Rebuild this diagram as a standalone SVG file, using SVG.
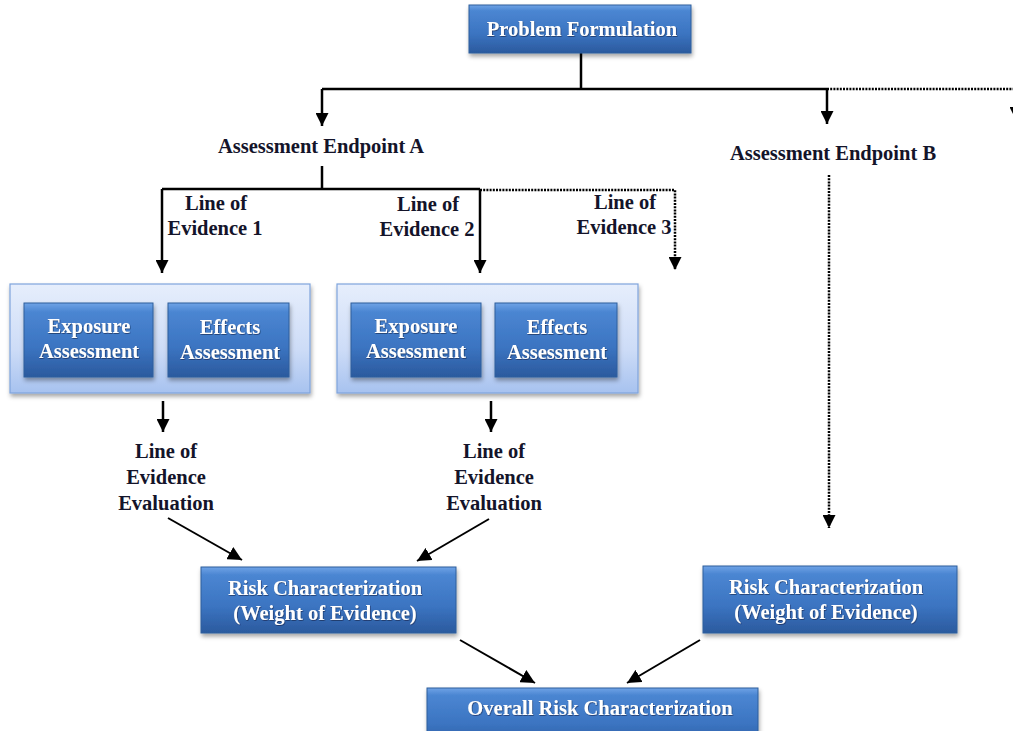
<svg xmlns="http://www.w3.org/2000/svg" width="1013" height="731" viewBox="0 0 1013 731">
<style>
.lbl{font-family:"Liberation Serif","Times New Roman",serif;font-weight:bold;font-size:20.5px;fill:#14142a;text-anchor:middle}
.btxt{font-family:"Liberation Serif","Times New Roman",serif;font-weight:bold;font-size:20.5px;fill:#ffffff;text-anchor:middle}
.box{fill:url(#blue);stroke:#2f5e9c;stroke-width:1}
.panel{fill:url(#pale);stroke:#7fa4dc;stroke-width:1.2}
.solid{fill:none;stroke:#000;stroke-width:2.5}
.dot{fill:none;stroke:#000;stroke-width:2.5;stroke-dasharray:2 1.2}
.diag{fill:none;stroke:#000;stroke-width:2}
</style>
<defs>
<linearGradient id="blue" x1="0" y1="0" x2="0" y2="1">
<stop offset="0" stop-color="#6fa3e6"/>
<stop offset="0.12" stop-color="#4b86d2"/>
<stop offset="0.6" stop-color="#3b74c1"/>
<stop offset="1" stop-color="#2b5a9e"/>
</linearGradient>
<linearGradient id="pale" x1="0" y1="0" x2="0" y2="1">
<stop offset="0" stop-color="#e6eefc"/>
<stop offset="0.6" stop-color="#cddcf7"/>
<stop offset="1" stop-color="#a7c2ef"/>
</linearGradient>
<filter id="sh" x="-10%" y="-10%" width="125%" height="140%">
<feDropShadow dx="1" dy="3" stdDeviation="2" flood-color="#000" flood-opacity="0.35"/>
</filter>
<filter id="tsh" x="-5%" y="-20%" width="110%" height="150%">
<feDropShadow dx="0.6" dy="0.8" stdDeviation="0.6" flood-color="#0a1e40" flood-opacity="0.7"/>
</filter>
<marker id="ah" viewBox="0 0 12 12" refX="12" refY="6" markerWidth="13" markerHeight="13" markerUnits="userSpaceOnUse" orient="auto">
<path d="M0,0 L12,6 L0,12 z" fill="#000"/>
</marker>
<marker id="ahs" viewBox="0 0 12 12" refX="12" refY="6" markerWidth="14" markerHeight="14" markerUnits="userSpaceOnUse" orient="auto">
<path d="M0,0 L12,6 L0,12 z" fill="#000"/>
</marker>
</defs>

<g id="connectors">
<path class="solid" d="M581,53 V89"/>
<path class="solid" d="M322,89 H827" />
<path class="solid" d="M322,89 V126" marker-end="url(#ah)"/>
<path class="solid" d="M827,89 V124" marker-end="url(#ah)"/>
<path class="dot" d="M827,89 H1016 V120" marker-end="url(#ah)"/>
<path class="solid" d="M322,166 V189"/>
<path class="solid" d="M162,189 H480"/>
<path class="solid" d="M162,189 V273" marker-end="url(#ah)"/>
<path class="solid" d="M480,189 V273" marker-end="url(#ah)"/>
<path class="dot" d="M480,190 H675 V270" marker-end="url(#ah)"/>
<path class="dot" d="M829,175 V528" marker-end="url(#ah)"/>
<path class="solid" d="M163,401 V432" marker-end="url(#ah)"/>
<path class="solid" d="M491,401 V432" marker-end="url(#ah)"/>
<path class="diag" d="M168,518 L242,560" marker-end="url(#ahs)"/>
<path class="diag" d="M489,519 L417,561" marker-end="url(#ahs)"/>
<path class="diag" d="M460,640 L535,683" marker-end="url(#ahs)"/>
<path class="diag" d="M700,640 L627,683" marker-end="url(#ahs)"/>
</g>

<g id="problem-formulation">
<rect class="box" x="469" y="5" width="222" height="48" filter="url(#sh)"/>
<text class="btxt" x="582" y="36" filter="url(#tsh)">Problem Formulation</text>
</g>

<g id="endpoint-a">
<text class="lbl" x="321" y="153">Assessment Endpoint A</text>
</g>

<g id="endpoint-b">
<text class="lbl" x="833" y="160">Assessment Endpoint B</text>
</g>

<g id="loe-1">
<text class="lbl" x="216" y="210">Line of</text>
<text class="lbl" x="215" y="235">Evidence 1</text>
</g>
<g id="loe-2">
<text class="lbl" x="428" y="211">Line of</text>
<text class="lbl" x="427" y="236">Evidence 2</text>
</g>
<g id="loe-3">
<text class="lbl" x="625" y="209">Line of</text>
<text class="lbl" x="624" y="234">Evidence 3</text>
</g>

<g id="panel-1">
<rect class="panel" x="10" y="284" width="300" height="109" filter="url(#sh)"/>
<g id="exposure-1">
<rect class="box" x="24" y="303" width="129" height="74" filter="url(#sh)"/>
<text class="btxt" x="89" y="333" filter="url(#tsh)">Exposure</text>
<text class="btxt" x="89" y="358" filter="url(#tsh)">Assessment</text>
</g>
<g id="effects-1">
<rect class="box" x="168" y="303" width="121" height="74" filter="url(#sh)"/>
<text class="btxt" x="230" y="334" filter="url(#tsh)">Effects</text>
<text class="btxt" x="230" y="359" filter="url(#tsh)">Assessment</text>
</g>
</g>

<g id="panel-2">
<rect class="panel" x="337" y="284" width="301" height="109" filter="url(#sh)"/>
<g id="exposure-2">
<rect class="box" x="351" y="303" width="130" height="74" filter="url(#sh)"/>
<text class="btxt" x="416" y="333" filter="url(#tsh)">Exposure</text>
<text class="btxt" x="416" y="358" filter="url(#tsh)">Assessment</text>
</g>
<g id="effects-2">
<rect class="box" x="495" y="303" width="122" height="74" filter="url(#sh)"/>
<text class="btxt" x="557" y="334" filter="url(#tsh)">Effects</text>
<text class="btxt" x="557" y="359" filter="url(#tsh)">Assessment</text>
</g>
</g>

<g id="loe-eval-1">
<text class="lbl" x="166" y="458">Line of</text>
<text class="lbl" x="166" y="484">Evidence</text>
<text class="lbl" x="166" y="510">Evaluation</text>
</g>
<g id="loe-eval-2">
<text class="lbl" x="494" y="458">Line of</text>
<text class="lbl" x="494" y="484">Evidence</text>
<text class="lbl" x="494" y="510">Evaluation</text>
</g>

<g id="risk-a">
<rect class="box" x="201" y="567" width="255" height="66" filter="url(#sh)"/>
<text class="btxt" x="325" y="595" filter="url(#tsh)">Risk Characterization</text>
<text class="btxt" x="325" y="620" filter="url(#tsh)">(Weight of Evidence)</text>
</g>

<g id="risk-b">
<rect class="box" x="703" y="566" width="254" height="67" filter="url(#sh)"/>
<text class="btxt" x="826" y="594" filter="url(#tsh)">Risk Characterization</text>
<text class="btxt" x="826" y="619" filter="url(#tsh)">(Weight of Evidence)</text>
</g>

<g id="overall">
<rect class="box" x="427" y="688" width="331" height="60" filter="url(#sh)"/>
<text class="btxt" x="600" y="715" filter="url(#tsh)">Overall Risk Characterization</text>
</g>
</svg>
